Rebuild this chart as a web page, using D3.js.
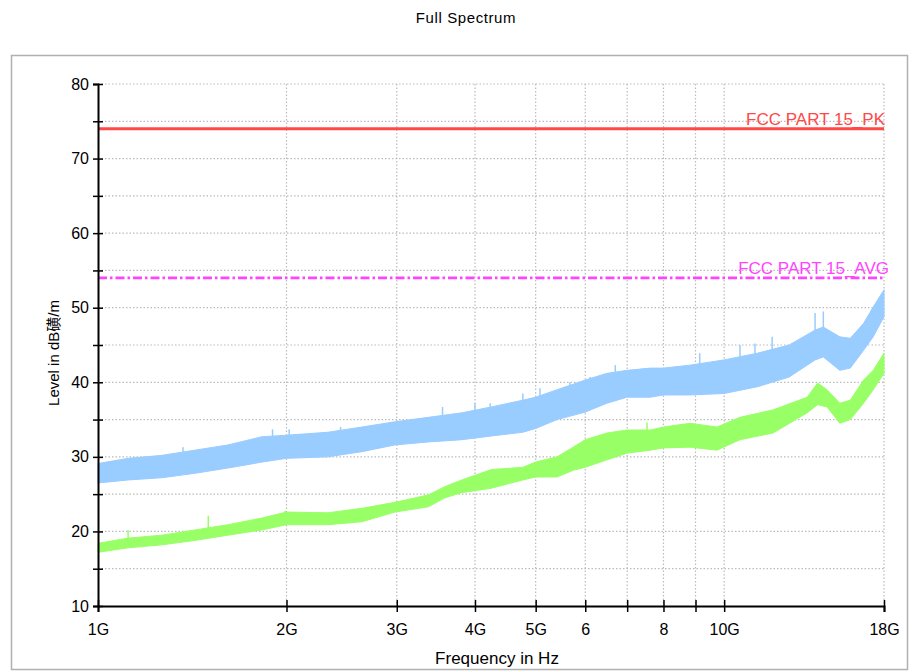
<!DOCTYPE html>
<html>
<head>
<meta charset="utf-8">
<script src="https://cdn.jsdelivr.net/npm/d3@7"></script>
<style>
  body { margin: 0; background: #fff; }
  text { font-family: "Liberation Sans", Arial, "Noto Sans CJK SC", sans-serif; }
</style>
</head>
<body>
<div id="chart"></div>
<script>
var width = 912,
    height = 671;

// frequencies in GHz, levels in dB
var pkFreq = [1.00, 1.117, 1.265, 1.429, 1.613, 1.828, 2.00, 2.33, 2.64, 2.98, 3.37, 3.81, 4.25, 4.77, 5.00, 5.41, 6.00, 6.50, 7.00, 7.62, 8.00, 8.82, 10.0, 11.3, 12.7, 13.97, 14.4, 15.3, 15.9, 16.7, 17.3, 18.0];
var pkLow  = [26.5, 26.9, 27.2, 27.8, 28.5, 29.3, 29.8, 30.0, 30.7, 31.6, 32.0, 32.3, 32.8, 33.3, 33.8, 35.0, 36.0, 37.2, 38.0, 38.0, 38.3, 38.3, 38.5, 39.4, 40.7, 43.0, 43.4, 41.6, 41.9, 44.3, 46.1, 48.8];
var pkHigh = [29.1, 29.8, 30.2, 30.9, 31.6, 32.7, 32.9, 33.3, 34.0, 34.7, 35.3, 35.9, 36.7, 37.6, 38.0, 39.0, 40.3, 41.2, 41.6, 41.9, 41.9, 42.3, 43.0, 43.9, 45.0, 47.0, 47.4, 46.1, 45.9, 47.9, 50.1, 52.4];

var avFreq = [1.00, 1.117, 1.265, 1.429, 1.613, 1.828, 2.00, 2.33, 2.64, 2.98, 3.37, 3.58, 3.81, 4.25, 4.77, 5.00, 5.41, 5.74, 6.00, 6.50, 7.00, 7.62, 8.00, 8.82, 9.74, 10.6, 11.97, 13.57, 14.1, 14.6, 15.3, 15.9, 16.7, 17.3, 18.0];
var avLow  = [17.2, 17.8, 18.2, 18.8, 19.5, 20.2, 20.9, 20.9, 21.3, 22.6, 23.3, 24.5, 25.2, 25.8, 26.9, 27.3, 27.3, 28.2, 28.6, 29.6, 30.5, 30.9, 31.2, 31.3, 30.9, 32.3, 33.2, 35.9, 37.0, 36.7, 34.5, 35.0, 37.2, 39.0, 41.2];
var avHigh = [18.4, 19.1, 19.5, 20.2, 20.9, 21.8, 22.6, 22.5, 23.1, 23.9, 24.9, 26.0, 26.9, 28.3, 28.6, 29.3, 30.0, 31.3, 32.3, 33.2, 33.6, 33.6, 34.0, 34.5, 34.0, 35.3, 36.3, 38.0, 39.9, 39.0, 37.2, 37.6, 40.3, 41.6, 43.9];

// single noise spikes above the traces
var pkSpikeFreq = [1.367, 1.90, 2.02, 2.44, 3.55, 4.00, 4.23, 4.77, 5.08, 5.67, 6.11, 6.70, 9.14, 10.6, 11.2, 11.93, 13.97, 14.4];
var pkSpikeVal  = [31.3, 33.7, 33.7, 34.0, 36.7, 37.2, 37.2, 38.5, 39.2, 40.0, 40.7, 42.3, 43.9, 45.0, 45.2, 46.1, 49.3, 49.5];
var avSpikeFreq = [1.117, 1.50, 1.99, 7.53];
var avSpikeVal  = [20.2, 22.1, 22.8, 34.6];

var limitNames = ["FCC PART 15_PK", "FCC PART 15_AVG"];
var limitVals  = [74, 54];

var yTicks = [10, 15, 20, 25, 30, 35, 40, 45, 50, 55, 60, 65, 70, 75, 80];
var xTicks = [1, 2, 3, 4, 5, 6, 7, 8, 9, 10, 18];
var xTickLabels = ["1G", "2G", "3G", "4G", "5G", "6", "", "8", "", "10G", "18G"];

var svg = d3.select("#chart").append("svg")
    .attr("width", width)
    .attr("height", height);

var x = d3.scaleLog().domain([1, 18]).range([98, 884]);
var y = d3.scaleLinear().domain([10, 80]).range([606, 84]);

// outer frame
svg.append("rect")
    .attr("x", 11.5).attr("y", 55.5)
    .attr("width", 896).attr("height", 614)
    .attr("fill", "none")
    .attr("stroke", "#b0b0b0")
    .attr("stroke-width", 1.5);

svg.append("text")
    .attr("x", 466).attr("y", 23)
    .attr("text-anchor", "middle")
    .style("font-size", "15px")
    .style("letter-spacing", "0.6px")
    .text("Full Spectrum");

// grid
var grid = svg.append("g");
grid.selectAll(".hg")
    .data(yTicks.filter(function(d) { return d > 10; }))
  .enter().append("line")
    .attr("x1", 98).attr("x2", 884)
    .attr("y1", function(d) { return y(d); })
    .attr("y2", function(d) { return y(d); })
    .attr("stroke", "#bbb")
    .attr("stroke-width", 1.2)
    .attr("stroke-dasharray", "1.5,2");
grid.selectAll(".vg")
    .data(xTicks.filter(function(d) { return d > 1; }))
  .enter().append("line")
    .attr("y1", 84).attr("y2", 606)
    .attr("x1", function(d) { return x(d); })
    .attr("x2", function(d) { return x(d); })
    .attr("stroke", "#bbb")
    .attr("stroke-width", 1.2)
    .attr("stroke-dasharray", "1.5,2");

// traces
function band(freq, lo, hi) {
  return freq.map(function(f, i) { return {f: f, lo: lo[i], hi: hi[i]}; });
}
var area = d3.area()
    .x(function(d) { return x(d.f); })
    .y0(function(d) { return y(d.lo); })
    .y1(function(d) { return y(d.hi); });

var pk = band(pkFreq, pkLow, pkHigh);
var av = band(avFreq, avLow, avHigh);

// top of band at a frequency (for spike bases)
function topAt(data, f) {
  var i = d3.bisector(function(d) { return d.f; }).left(data, f);
  if (i <= 0) return data[0].hi;
  if (i >= data.length) return data[data.length - 1].hi;
  var a = data[i - 1], b = data[i];
  var t = (Math.log(f) - Math.log(a.f)) / (Math.log(b.f) - Math.log(a.f));
  return a.hi + t * (b.hi - a.hi);
}

function drawTrace(data, sFreq, sVal, color) {
  svg.append("path")
      .datum(data)
      .attr("d", area)
      .attr("fill", color)
      .attr("stroke", color)
      .attr("stroke-width", 1);
  svg.selectAll(null)
      .data(sFreq)
    .enter().append("line")
      .attr("x1", function(d) { return x(d); })
      .attr("x2", function(d) { return x(d); })
      .attr("y1", function(d, i) { return y(sVal[i]); })
      .attr("y2", function(d) { return y(topAt(data, d)) + 2; })
      .attr("stroke", color)
      .attr("stroke-width", 1.5);
}
drawTrace(pk, pkSpikeFreq, pkSpikeVal, "#99ccff");
drawTrace(av, avSpikeFreq, avSpikeVal, "#99ff66");

// limit lines
var limitColors = ["#ff4848", "#ff44ff"];
var limitDash = [null, "9,3,2.5,3"];
svg.selectAll(".limit")
    .data(limitVals)
  .enter().append("line")
    .attr("x1", 98).attr("x2", 884)
    .attr("y1", function(d) { return y(d); })
    .attr("y2", function(d) { return y(d); })
    .attr("stroke", function(d, i) { return limitColors[i]; })
    .attr("stroke-width", function(d, i) { return i == 0 ? 2.8 : 2.6; })
    .attr("stroke-dasharray", function(d, i) { return limitDash[i]; });
svg.selectAll(".limitLabel")
    .data(limitVals)
  .enter().append("text")
    .attr("x", function(d, i) { return i == 0 ? 885 : 889; })
    .attr("y", function(d) { return y(d) - 4; })
    .attr("text-anchor", "end")
    .attr("fill", function(d, i) { return limitColors[i]; })
    .style("font-size", "17px")
    .text(function(d, i) { return limitNames[i]; });

// axes
var yAxis = d3.axisLeft(y)
    .tickValues(yTicks)
    .tickSizeOuter(0)
    .tickSize(5)
    .tickPadding(4)
    .tickFormat(function(d) { return d % 10 == 0 ? d : ""; });
var gy = svg.append("g")
    .attr("transform", "translate(98,0)")
    .call(yAxis);
gy.selectAll(".tick line").attr("x1", 5).attr("stroke-width", 1.5);

var xAxis = d3.axisBottom(x)
    .tickValues(xTicks)
    .tickSizeOuter(0)
    .tickSize(6)
    .tickPadding(12)
    .tickFormat(function(d, i) { return xTickLabels[i]; });
var gx = svg.append("g")
    .attr("transform", "translate(0,606)")
    .call(xAxis);
gx.selectAll(".tick line").attr("y1", -6).attr("stroke-width", 1.5);

svg.selectAll(".domain").attr("stroke", "#000").attr("stroke-width", 2);
svg.selectAll(".tick text")
    .style("font-family", "'Liberation Sans', Arial, sans-serif")
    .style("font-size", "16px")
    .attr("fill", "#000");

svg.append("text")
    .attr("x", 497).attr("y", 664)
    .attr("text-anchor", "middle")
    .style("font-size", "17px")
    .text("Frequency in Hz");

svg.append("text")
    .attr("transform", "translate(59,353) rotate(-90)")
    .attr("text-anchor", "middle")
    .style("font-size", "15px")
    .text("Level in dB磺/m");
</script>
</body>
</html>
